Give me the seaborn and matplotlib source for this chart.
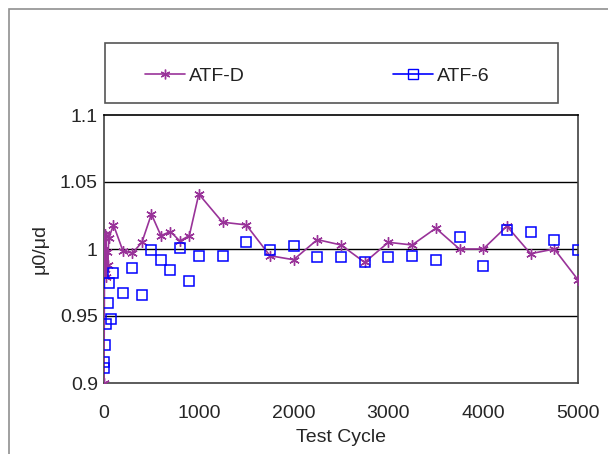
import numpy as np
import pandas as pd
import seaborn as sns
import matplotlib.pyplot as plt
from matplotlib.lines import Line2D
from matplotlib.patches import Rectangle

# values
cycle_d = [0, 5, 10, 15, 20, 25, 30, 40, 50, 100, 200, 300, 400, 500, 600, 700, 800, 900,
           1000, 1250, 1500, 1750, 2000, 2250, 2500, 2750, 3000, 3250, 3500, 3750, 4000,
           4250, 4500, 4750, 5000]
ratio_d = [0.900, 0.982, 1.011, 0.985, 1.010, 0.979, 0.998, 0.988, 1.008, 1.018, 0.9985, 0.997,
           1.005, 1.026, 1.010, 1.013, 1.006, 1.010, 1.041, 1.020, 1.018, 0.995, 0.992,
           1.007, 1.003, 0.990, 1.005, 1.003, 1.0155, 1.000, 1.000, 1.017, 0.9965, 1.000,
           0.977]

cycle_6 = [0, 5, 10, 20, 40, 50, 75, 100, 200, 300, 400, 500, 600, 700, 800, 900, 1000,
           1250, 1500, 1750, 2000, 2250, 2500, 2750, 3000, 3250, 3500, 3750, 4000, 4250,
           4500, 4750, 5000]
ratio_6 = [0.911, 0.916, 0.928, 0.944, 0.960, 0.975, 0.948, 0.982, 0.967, 0.986, 0.966,
           0.999, 0.992, 0.984, 1.001, 0.976, 0.995, 0.995, 1.005, 0.999, 1.002, 0.994,
           0.994, 0.990, 0.994, 0.995, 0.992, 1.009, 0.987, 1.014, 1.013, 1.007, 0.999]

series_names = ['ATF-D', 'ATF-6']
purple = '#993399'
blue = '#0000FF'

sns.set_style('white')
plt.rcParams['font.family'] = ['Liberation Sans', 'DejaVu Sans']

fig = plt.figure(figsize=(6.08, 4.54), dpi=100)
ax = fig.add_axes([104 / 608, 1 - 383 / 454, 474 / 608, 268 / 454])

df_d = pd.DataFrame({'cycle': cycle_d, 'ratio': ratio_d})
df_6 = pd.DataFrame({'cycle': cycle_6, 'ratio': ratio_6})

sns.lineplot(data=df_d, x='cycle', y='ratio', ax=ax, sort=False, color=purple, lw=1.2,
             marker=(6, 2, 0), markersize=7.5, mec=purple, mew=1.0, zorder=3)
sns.lineplot(data=df_6, x='cycle', y='ratio', ax=ax, sort=False, color=blue, linestyle='',
             marker='s', markersize=7.5, mfc='none', mec=blue, mew=1.1, zorder=4)

ax.set_xlim(0, 5000)
ax.set_ylim(0.9, 1.1)
ax.set_xticks([0, 1000, 2000, 3000, 4000, 5000])
ax.set_yticks([0.9, 0.95, 1.0, 1.05, 1.1])
ax.set_yticklabels(['0.9', '0.95', '1', '1.05', '1.1'])
for yv in [0.95, 1.0, 1.05]:
    ax.axhline(yv, color='black', lw=1.0, zorder=1)
for s in ax.spines.values():
    s.set_color('#404040')
    s.set_linewidth(1.2)
ax.spines['top'].set_color('black')
ax.tick_params(axis='x', direction='in', length=4, width=1, color='#404040', labelsize=14, pad=16)
ax.tick_params(axis='y', length=0, labelsize=14, pad=4.5)
ax.set_xlabel('Test Cycle', fontsize=14, labelpad=5)
ax.set_ylabel('μ0/μd', fontsize=14, labelpad=8)

# legend box
fig.patches.append(Rectangle((105 / 608, 1 - 103 / 454), 453 / 608, 60 / 454,
                             transform=fig.transFigure, fill=False, ec='#555555', lw=1.2))
handles = [Line2D([], [], color=purple, lw=1.2, marker=(6, 2, 0), markersize=7, mec=purple),
           Line2D([], [], color=blue, lw=1.2, marker='s', markersize=6.5, mfc='none', mec=blue)]
leg = fig.legend(handles, series_names, loc='center left',
                 bbox_to_anchor=(145 / 608, 1 - 76.5 / 454), ncol=2, frameon=False,
                 fontsize=14, handlelength=2.06, handletextpad=0.2, columnspacing=7.6,
                 borderpad=0, borderaxespad=0)
for t in leg.get_texts():
    t.set_color('#222222')

# outer chart border
fig.patches.append(Rectangle((9 / 608, -0.1), 1.2, 1.1 - 9 / 454,
                             transform=fig.transFigure, fill=False, ec='#909090', lw=1.2))

fig.savefig('out.png', dpi=100)
